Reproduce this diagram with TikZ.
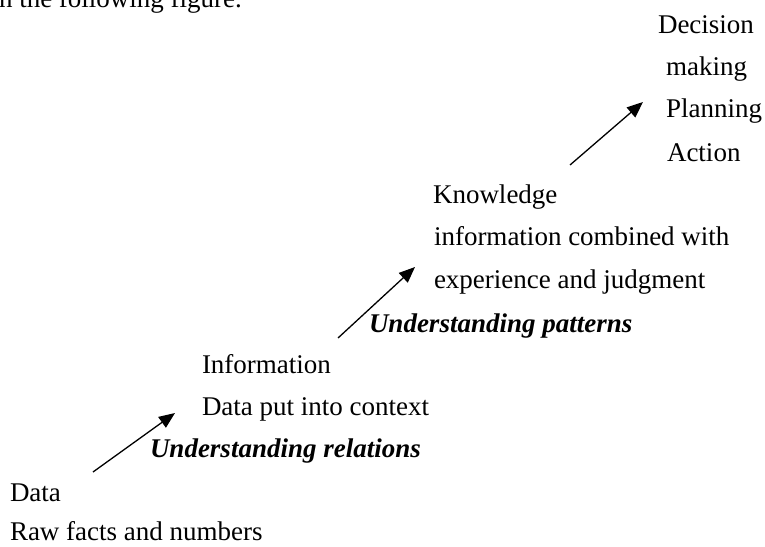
\documentclass[tikz,border=0pt]{standalone}
\usepackage{fontspec}
\setmainfont{Liberation Serif}
\usetikzlibrary{arrows.meta}
\begin{document}
\begin{tikzpicture}[x=1pt,y=-1pt,
  lbl/.style={anchor=base west, inner sep=0pt, outer sep=0pt, font=\fontsize{27}{32}\selectfont},
  sub/.style={lbl, font=\fontsize{27}{32}\selectfont\bfseries\itshape},
  arr/.style={line width=1.3pt, -{Triangle[length=16pt,width=13pt]}}]
\useasboundingbox (0,0) rectangle (765,546);
\clip (0,0) rectangle (765,546);

% cropped running text at the top (cut off in the reference as well)
\node[lbl] (top) at (-1,8) {n the following figure.};

% Data
\node[lbl] (d1) at (10,501) {Data};
\node[lbl] (d2) at (10,540) {Raw facts and numbers};

% Information
\node[lbl] (i1) at (202,373) {Information};
\node[lbl] (i2) at (202,415) {Data put into context};
\node[sub] (r1) at (150,457) {Understanding relations};

% Knowledge
\node[lbl] (k1) at (433,203) {Knowledge};
\node[lbl] (k2) at (434,245) {information combined with};
\node[lbl] (k3) at (434,288) {experience and judgment};
\node[sub] (p1) at (369,332) {Understanding patterns};

% Decision making
\node[lbl] (w1) at (658,33) {Decision};
\node[lbl] (w2) at (666,75) {making};
\node[lbl] (w3) at (666,117) {Planning};
\node[lbl] (w4) at (667,161) {Action};

% arrows
\coordinate (a1s) at (93,472);
\coordinate (a1e) at (175,413);
\coordinate (a2s) at (338,338);
\coordinate (a2e) at (415,267);
\coordinate (a3s) at (570,165);
\coordinate (a3e) at (643,102);
\draw[arr] (a1s) -- (a1e);
\draw[arr] (a2s) -- (a2e);
\draw[arr] (a3s) -- (a3e);
\end{tikzpicture}
\end{document}
